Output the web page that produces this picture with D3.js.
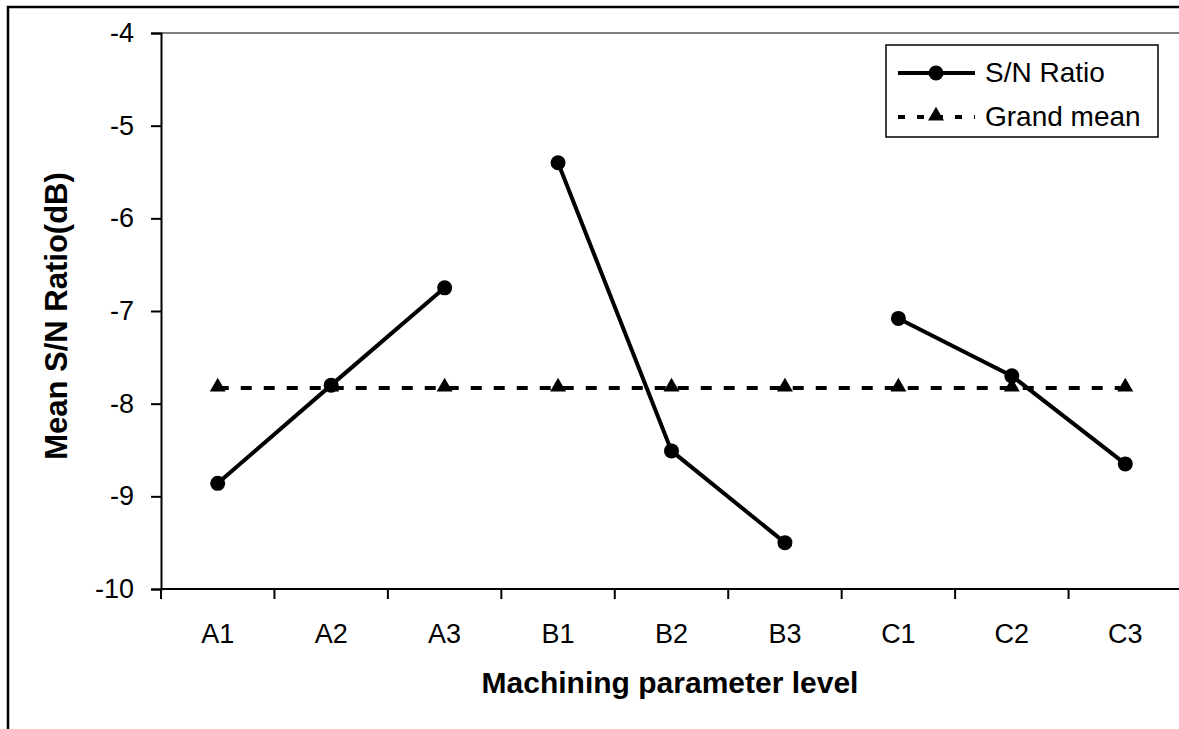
<!DOCTYPE html>
<html>
<head>
<meta charset="utf-8">
<script src="https://cdn.jsdelivr.net/npm/d3@7"></script>
<style>
  body { margin: 0; background: #fff; }
  svg { display: block; font-family: "Liberation Sans", Arial, sans-serif; }
</style>
</head>
<body>
<div id="chart"></div>
<script>
// chart data
var levels = ["A1","A2","A3","B1","B2","B3","C1","C2","C3"];
var groups = ["A","B","C"];
var snRatio = [-8.86, -7.80, -6.75, -5.40, -8.51, -9.50, -7.08, -7.70, -8.65];
var grandMean = [-7.83, -7.83, -7.83, -7.83, -7.83, -7.83, -7.83, -7.83, -7.83];
var yTicks = [-10, -9, -8, -7, -6, -5, -4];

var width = 1179, height = 729;
var pLeft = 161, pTop = 33, pRight = 1182, pBottom = 589;

var svg = d3.select("#chart").append("svg")
    .attr("width", width).attr("height", height);

// outer frame (right and bottom edges fall outside the picture)
svg.append("path")
    .attr("d", "M 8,729 L 8,7 L 1179,7")
    .attr("fill", "none").attr("stroke", "black").attr("stroke-width", 2.5);

var x = d3.scaleBand().domain(levels).range([pLeft, pRight]);
var y = d3.scaleLinear().domain([-10, -4]).range([pBottom, pTop]);

// top border of the plot area
svg.append("line")
    .attr("x1", pLeft).attr("x2", width).attr("y1", pTop).attr("y2", pTop)
    .attr("stroke", "#808080").attr("stroke-width", 2);

// y axis
var yAxis = svg.append("g")
    .attr("transform", "translate(" + pLeft + ",0)")
    .call(d3.axisLeft(y).tickValues(yTicks).tickSize(10).tickPadding(17));
yAxis.select(".domain").attr("stroke-width", 2);
yAxis.selectAll(".tick line").attr("stroke-width", 2);
yAxis.selectAll("text").attr("font-size", 27).attr("font-family", "Liberation Sans, Arial").attr("fill", "black")
    .text(d => d < 0 ? "-" + Math.abs(d) : d);

// x axis: ticks between categories
var xAxis = svg.append("g").attr("transform", "translate(0," + pBottom + ")");
xAxis.append("line")
    .attr("x1", pLeft).attr("x2", width).attr("y1", 0).attr("y2", 0)
    .attr("stroke", "black").attr("stroke-width", 2);
xAxis.selectAll(".sep").data(levels).enter().append("line")
    .attr("x1", d => x(d)).attr("x2", d => x(d))
    .attr("y1", 0).attr("y2", 10)
    .attr("stroke", "black").attr("stroke-width", 2);
xAxis.selectAll(".lab").data(levels).enter().append("text")
    .attr("x", d => x(d) + x.bandwidth() / 2)
    .attr("y", 54)
    .attr("text-anchor", "middle")
    .attr("font-size", 27)
    .text(d => d);

// axis titles
svg.append("text")
    .attr("x", 670).attr("y", 693)
    .attr("text-anchor", "middle")
    .attr("font-size", 30).attr("font-weight", "bold")
    .text("Machining parameter level");
svg.append("text")
    .attr("transform", "translate(67,316) rotate(-90)")
    .attr("text-anchor", "middle")
    .attr("font-size", 31).attr("font-weight", "bold")
    .text("Mean S/N Ratio(dB)");

var cx = i => x(levels[i]) + x.bandwidth() / 2;
var tri = d3.symbol().type(d3.symbolTriangle).size(110);

// grand mean
var gm = grandMean.map((v, i) => i);
svg.append("path")
    .attr("d", d3.line().x(i => cx(i)).y(i => y(grandMean[i]))(gm))
    .attr("fill", "none").attr("stroke", "black").attr("stroke-width", 4)
    .attr("stroke-dasharray", "11,12");
svg.selectAll(".tri").data(gm).enter().append("path")
    .attr("d", tri)
    .attr("transform", i => "translate(" + cx(i) + "," + (y(grandMean[i]) - 1) + ")");

// S/N ratio, one segment per factor
groups.forEach(function(g) {
    var idx = levels.map((l, i) => i).filter(i => levels[i][0] == g);
    svg.append("path")
        .attr("d", d3.line().x(i => cx(i)).y(i => y(snRatio[i]))(idx))
        .attr("fill", "none").attr("stroke", "black").attr("stroke-width", 4);
});
svg.selectAll(".dot").data(snRatio).enter().append("circle")
    .attr("cx", (d, i) => cx(i)).attr("cy", d => y(d))
    .attr("r", 7.5).attr("fill", "black");

// legend
var lg = svg.append("g");
lg.append("rect")
    .attr("x", 886).attr("y", 45).attr("width", 272).attr("height", 92)
    .attr("fill", "white").attr("stroke", "black").attr("stroke-width", 1.5);
lg.append("line").attr("x1", 898).attr("x2", 975).attr("y1", 73).attr("y2", 73)
    .attr("stroke", "black").attr("stroke-width", 4);
lg.append("circle").attr("cx", 936).attr("cy", 73).attr("r", 7.5);
lg.append("line").attr("x1", 898).attr("x2", 975).attr("y1", 117).attr("y2", 117)
    .attr("stroke", "black").attr("stroke-width", 4).attr("stroke-dasharray", "7,12");
lg.append("path").attr("d", tri).attr("transform", "translate(936,116)");
lg.append("text").attr("x", 985).attr("y", 82).attr("font-size", 28).text("S/N Ratio");
lg.append("text").attr("x", 985).attr("y", 126).attr("font-size", 28).text("Grand mean");
</script>
</body>
</html>
